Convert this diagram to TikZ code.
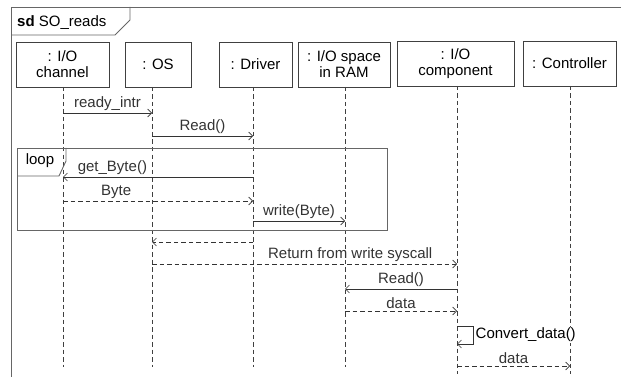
\documentclass[tikz,border=0pt]{standalone}
\usepackage{fontspec}
\setmainfont{Liberation Sans}
\usetikzlibrary{arrows.meta}

\begin{document}
\begin{tikzpicture}[x=1pt, y=-1pt, font=\fontsize{15}{16}\selectfont,
	head/.style={draw=black!75, line width=0.6pt, align=center, inner sep=0pt, minimum height=45pt},
	life/.style={dash pattern=on 4.5pt off 3pt, black!75, line width=0.6pt},
	msg/.style={-{Straight Barb[length=4pt,width=8pt]}, black!80, line width=0.6pt},
	reply/.style={msg, dash pattern=on 4.5pt off 3pt},
	frm/.style={black!60, line width=0.9pt},
	lbl/.style={above, inner sep=2pt}]
	\useasboundingbox (0,0) rectangle (621,377);
	\draw[frm] (621,7) -- (11,7) -- (11,377);
	\draw[frm] (11,35) -- (115,35) -- (130,20) -- (130,7);
	\node[anchor=base west, inner sep=0pt] (title) at (17,27) {\textbf{sd} SO\_reads};
	\node[head, minimum width=93pt] (chanbox) at (62.5,64.5) {: I/O\\channel};
	\node[head, minimum width=66pt] (osbox) at (158,64.5) {: OS};
	\node[head, minimum width=73pt] (drvbox) at (255.5,64.5) {: Driver};
	\node[head, minimum width=92pt] (rambox) at (344,64.5) {: I/O space\\in RAM};
	\node[head, minimum width=117pt] (compbox) at (455.5,63.5) {: I/O\\component};
	\node[head, minimum width=93pt] (ctrlbox) at (569.5,63.5) {: Controller};
	\coordinate (chanL) at (63,87);
	\coordinate (osL) at (152,87);
	\coordinate (drvL) at (253,87);
	\coordinate (ramL) at (345,87);
	\coordinate (compL) at (457,86);
	\coordinate (ctrlL) at (570,86);
	\coordinate (end) at (0,367);
	\coordinate (end2) at (0,374);
	\draw[life] (chanL) -- (chanL |- end);
	\draw[life] (osL) -- (osL |- end);
	\draw[life] (drvL) -- (drvL |- end);
	\draw[life] (ramL) -- (ramL |- end);
	\draw[life] (compL) -- (compL |- end2);
	\draw[life] (ctrlL) -- (ctrlL |- end2);
	\draw[frm] (17,148) rectangle (387,230);
	\draw[frm] (17,176) -- (59,176) -- (66,161) -- (66,148);
	\node (loop) at (40,161) {loop};
	\coordinate (r1) at (0,113);
	\coordinate (r2) at (0,136);
	\coordinate (r3) at (0,177);
	\coordinate (r4) at (0,201);
	\coordinate (r5) at (0,221);
	\coordinate (r6) at (0,242);
	\coordinate (r7) at (0,264);
	\coordinate (r8) at (0,289);
	\coordinate (r9) at (0,311);
	\coordinate (r10) at (0,326);
	\coordinate (r11) at (0,344);
	\coordinate (r12) at (0,366);
	\draw[msg] (chanL |- r1) -- node[lbl] {ready\_intr} (osL |- r1);
	\draw[msg] (osL |- r2) -- node[lbl] {Read()} (drvL |- r2);
	\draw[msg] (drvL |- r3) -- node[lbl, pos=0.74] {get\_Byte()} (chanL |- r3);
	\draw[reply] (chanL |- r4) -- node[lbl, pos=0.28] {Byte} (drvL |- r4);
	\draw[msg] (drvL |- r5) -- node[lbl] {write(Byte)} (ramL |- r5);
	\draw[reply] (drvL |- r6) -- (osL |- r6);
	\draw[reply] (osL |- r7) -- node[lbl, pos=0.65] {Return from write syscall} (compL |- r7);
	\draw[msg] (compL |- r8) -- node[lbl] {Read()} (ramL |- r8);
	\draw[reply] (ramL |- r9) -- node[lbl] {data} (compL |- r9);
	\draw[msg] (compL |- r10) -- ++(16,0) -- coordinate[midway] (selfmid) ++(0,18) -- (compL |- r11);
	\node[anchor=west, fill=white, inner sep=1pt, xshift=1.5pt] (conv) at (selfmid) {Convert\_data()};
	\draw[reply] (compL |- r12) -- node[lbl] {data} (ctrlL |- r12);
\end{tikzpicture}
\end{document}
